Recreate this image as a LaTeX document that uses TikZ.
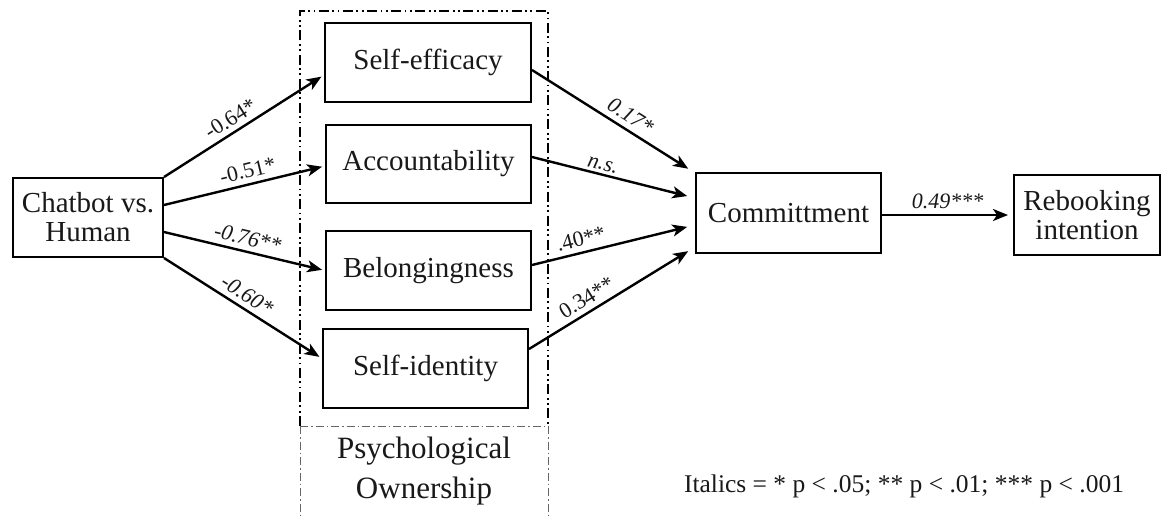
\documentclass[tikz,border=0pt]{standalone}
\usepackage{fontspec}
\setmainfont{Liberation Serif}
\usetikzlibrary{arrows.meta}
\begin{document}
\begin{tikzpicture}[x=1pt,y=-1pt,
  box/.style={draw=black, line width=2pt, minimum width=#1, minimum height=79pt, inner sep=0pt, align=center, font=\fontsize{29}{32}\selectfont, text=black!90},
  arr/.style={line width=2.4pt, -{Stealth[length=15pt,width=12pt,inset=4pt]}},
  lab/.style={sloped, above, inner sep=5pt, font=\fontsize{22}{24}\selectfont, text=black!90},
  ilab/.style={lab, font=\fontsize{22}{24}\selectfont\itshape},
  dd/.style={line width=1.5pt, dash pattern=on 10pt off 3.5pt on 1.8pt off 3.5pt on 1.8pt off 3.5pt},
  ddl/.style={line width=0.8pt, black!60, dash pattern=on 8pt off 3pt on 1.5pt off 3pt}
]
\useasboundingbox (0,0) rectangle (1164,515);
\fill[white] (0,0) rectangle (1164,515);

% Psychological ownership frame
\coordinate (ftl) at (300,11);
\coordinate (ftr) at (548,11);
\coordinate (fbl) at (300,515);
\coordinate (fbr) at (548,515);
\coordinate (fml) at (300,426);
\coordinate (fmr) at (548,426);
\draw[dd] (fml) -- (ftl) -- (ftr) -- (fmr);
\draw[ddl] (fml) -- (fbl);
\draw[ddl] (fmr) -- (fbr);
\draw[ddl] (fml) -- (fmr);
\node[font=\fontsize{31}{40}\selectfont, align=center, text=black!90] (po) at (424,471) {Psychological\\Ownership};

% nodes
\node[box=150pt] (ch) at (88,217.5) {Chatbot vs.\\[-3pt]Human};
\node[box=206pt] (se) at (428,62.5) {Self-efficacy};
\node[box=205pt, minimum height=78pt] (ac) at (428.5,164) {Accountability};
\node[box=205pt] (be) at (428.5,270.5) {Belongingness};
\node[box=205pt] (si) at (425.5,368.5) {Self-identity};
\node[box=185pt, minimum height=80pt] (cm) at (788.5,213) {Committment};
\node[box=146pt, minimum height=80pt] (rb) at (1087,215) {Rebooking\\[-3pt]intention};

% arrows from Chatbot
\draw[arr, shorten >=3pt] (ch.north east) -- ([yshift=-12.5pt]se.west) node[lab, pos=0.46] {-0.64*};
\draw[arr, shorten >=3pt] ([yshift=12.5pt]ch.east) -- ([yshift=-2pt]ac.west) node[lab, pos=0.54] {-0.51*};
\draw[arr, shorten >=3pt] ([yshift=-14.5pt]ch.east) -- (be.west) node[ilab, pos=0.5] {-0.76**};
\draw[arr, shorten >=3pt] (ch.south east) -- ([yshift=10pt]si.west) node[ilab, pos=0.48] {-0.60*};

% arrows into Commitment
\draw[arr, shorten >=8pt] ([yshift=-7.5pt]se.east) -- ([yshift=40pt]cm.west) node[ilab, pos=0.56] {0.17*};
\draw[arr, shorten >=8pt] ([yshift=7pt]ac.east) -- ([yshift=15pt]cm.west) node[ilab, pos=0.42, inner sep=3pt] {n.s.};
\draw[arr, shorten >=8pt] ([yshift=5.5pt]be.east) -- ([yshift=-12pt]cm.west) node[lab, pos=0.32] {.40**};
\draw[arr, shorten >=8pt] ([yshift=19.5pt]si.east) -- ([yshift=-34pt]cm.west) node[lab, pos=0.39] {0.34**};

% Commitment to Rebooking
\draw[arr, shorten >=5pt] ([yshift=-2pt]cm.east) -- ([yshift=0pt]rb.west) node[ilab, pos=0.5] {0.49***};

% legend
\node[font=\fontsize{25.5}{28}\selectfont, text=black!90] (lg) at (904,486) {Italics = * p < .05; ** p < .01; *** p < .001};
\end{tikzpicture}
\end{document}
